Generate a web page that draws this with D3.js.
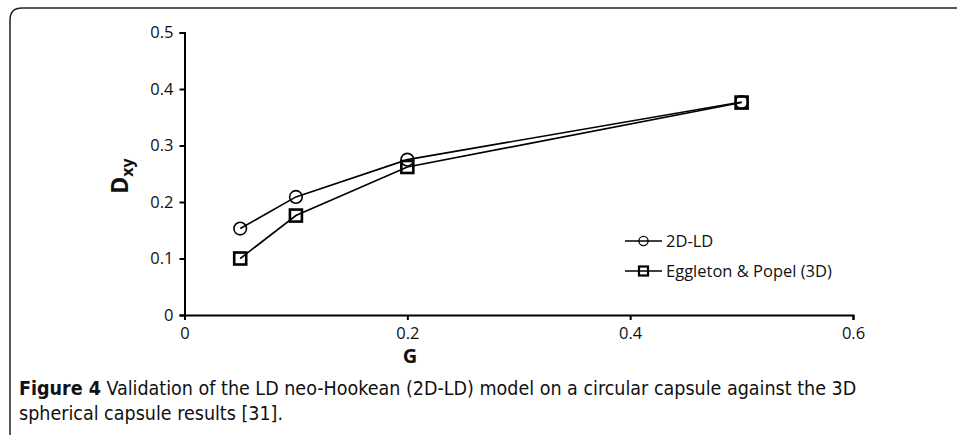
<!DOCTYPE html>
<html>
<head>
<meta charset="utf-8">
<script src="https://cdn.jsdelivr.net/npm/d3@7"></script>
<style>
  body { margin: 0; background: #fff; }
  svg text { fill: #111; }
</style>
</head>
<body>
<script>
// data
const gValues = [0.05, 0.1, 0.2, 0.5];
const ld2d = [0.153, 0.209, 0.275, 0.377];
const eggleton = [0.100, 0.176, 0.262, 0.376];
const xTicks = [0, 0.2, 0.4, 0.6];
const yTicks = [0, 0.1, 0.2, 0.3, 0.4, 0.5];
const seriesNames = ["2D-LD", "Eggleton & Popel (3D)"];

const w = 957, h = 435;
const svg = d3.select("body").append("svg")
  .attr("width", w).attr("height", h);

// frame round the figure (runs off right and bottom)
svg.append("path")
  .attr("d", "M10,440 L10,20 Q10,8 22,8 L970,8")
  .attr("fill", "none")
  .attr("stroke", "#222")
  .attr("stroke-width", 1.5);

const x = d3.scaleLinear().domain([0, 0.6]).range([184.5, 853]);
const y = d3.scaleLinear().domain([0, 0.5]).range([315, 32.5]);

const tickFont = "'Open Sans', sans-serif";

const xAxis = svg.append("g")
  .attr("transform", `translate(0,${y(0)})`)
  .call(d3.axisBottom(x).tickValues(xTicks).tickSize(5).tickSizeOuter(5)
    .tickFormat(d => d === 0 ? "0" : d3.format(".1f")(d)));
const yAxis = svg.append("g")
  .attr("transform", `translate(${x(0)},0)`)
  .call(d3.axisLeft(y).tickValues(yTicks).tickSize(5).tickSizeOuter(5)
    .tickFormat(d => d === 0 ? "0" : d3.format(".1f")(d)));

[xAxis, yAxis].forEach(a => {
  a.attr("font-size", null).attr("font-family", null);
  a.selectAll("path, line").attr("stroke", "#000").attr("stroke-width", 2);
  a.selectAll("text").style("font-family", tickFont).style("font-size", "16.5px").attr("fill", "#111");
});
xAxis.selectAll("text").attr("y", 8).attr("dy", "0.95em");
yAxis.selectAll("text").attr("x", -11);

// axis titles
svg.append("text")
  .attr("x", 410).attr("y", 363)
  .attr("text-anchor", "middle")
  .style("font-family", tickFont).style("font-weight", "bold").style("font-size", "20px")
  .text("G");

const yt = svg.append("text")
  .attr("transform", "translate(128,176) rotate(-90)")
  .attr("text-anchor", "middle")
  .style("font-family", tickFont).style("font-weight", "bold").style("font-size", "23px");
yt.append("tspan").text("D");
yt.append("tspan").style("font-size", "16px").attr("dy", 5).text("xy");

// series lines
const line = d3.line().x((d, i) => x(gValues[i])).y(d => y(d));

svg.append("path").datum(ld2d)
  .attr("d", line).attr("fill", "none").attr("stroke", "#000").attr("stroke-width", 1.6);
svg.append("path").datum(eggleton)
  .attr("d", line).attr("fill", "none").attr("stroke", "#000").attr("stroke-width", 1.6);

// markers
svg.selectAll(".circ").data(ld2d).enter().append("circle")
  .attr("class", "circ")
  .attr("cx", (d, i) => x(gValues[i])).attr("cy", d => y(d))
  .attr("r", 6.3)
  .attr("fill", "none").attr("stroke", "#000").attr("stroke-width", 1.6);

const sq = 12;
svg.selectAll(".sq").data(eggleton).enter().append("rect")
  .attr("class", "sq")
  .attr("x", (d, i) => x(gValues[i]) - sq / 2).attr("y", d => y(d) - sq / 2)
  .attr("width", sq).attr("height", sq)
  .attr("fill", "none").attr("stroke", "#000").attr("stroke-width", 2.6);

// legend
const lg = svg.append("g");
const rows = [241, 271];
rows.forEach((ry, i) => {
  lg.append("line").attr("x1", 625).attr("x2", 662).attr("y1", ry).attr("y2", ry)
    .attr("stroke", "#000").attr("stroke-width", 1.6);
  if (i === 0) {
    lg.append("circle").attr("cx", 643.5).attr("cy", ry).attr("r", 4.6)
      .attr("fill", "none").attr("stroke", "#000").attr("stroke-width", 1.3);
  } else {
    lg.append("rect").attr("x", 639).attr("y", ry - 4.5).attr("width", 9).attr("height", 9)
      .attr("fill", "none").attr("stroke", "#000").attr("stroke-width", 2.2);
  }
  lg.append("text").attr("x", 666).attr("y", ry + 6)
    .style("font-family", tickFont).style("font-size", "16.5px")
    .text(seriesNames[i]);
});

// caption
const capFont = "'DejaVu Sans Condensed', 'Liberation Sans Narrow', sans-serif";
const c1 = svg.append("text").attr("x", 19).attr("y", 395)
  .style("font-family", capFont).style("font-size", "19.5px");
c1.append("tspan").style("font-weight", "bold").text("Figure 4");
c1.append("tspan").text(" Validation of the LD neo-Hookean (2D-LD) model on a circular capsule against the 3D");
svg.append("text").attr("x", 19).attr("y", 420)
  .style("font-family", capFont).style("font-size", "19.5px")
  .text("spherical capsule results [31].");
</script>
</body>
</html>
